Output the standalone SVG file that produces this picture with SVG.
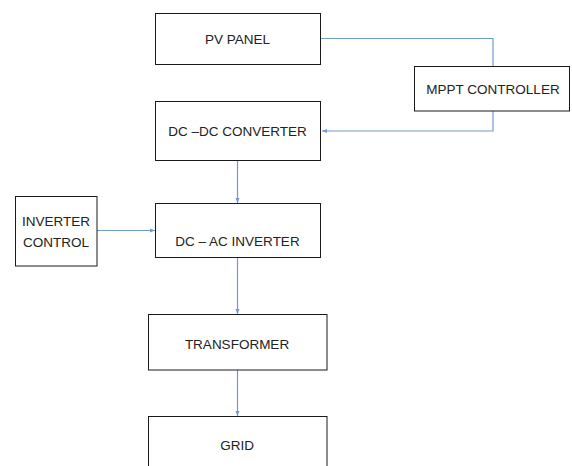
<svg xmlns="http://www.w3.org/2000/svg" width="572" height="466" viewBox="0 0 572 466">
<style>
.box{fill:#fff;stroke:#1a1a1a;stroke-width:1}
.lbl{font-family:"Liberation Sans",Arial,sans-serif;font-size:13.5px;fill:#222;text-anchor:middle}
.con{fill:none;stroke:#6f9ccb;stroke-width:1.2}
</style>
<defs>
<marker id="arr" viewBox="0 0 10 10" refX="10" refY="5" markerWidth="5" markerHeight="5" orient="auto" markerUnits="userSpaceOnUse">
<path d="M0,1 L10,5 L0,9 z" fill="#6f9ccb"/>
</marker>
</defs>
<rect width="572" height="466" fill="#fff"/>
<g id="connectors">
<path class="con" d="M321,38.5 H493 V66"/>
<path class="con" d="M493,111 V131 H322" marker-end="url(#arr)"/>
<path class="con" d="M237.5,161 V203" marker-end="url(#arr)"/>
<path class="con" d="M97,230.5 H155" marker-end="url(#arr)"/>
<path class="con" d="M237.5,257 V314" marker-end="url(#arr)"/>
<path class="con" d="M237.5,370 V416" marker-end="url(#arr)"/>
</g>
<g id="pv-panel"><rect class="box" x="155.5" y="13.5" width="165" height="51"/><text class="lbl" x="237.5" y="44">PV PANEL</text></g>
<g id="mppt-controller"><rect class="box" x="414.5" y="66.5" width="155" height="44.5"/><text class="lbl" x="493" y="94">MPPT CONTROLLER</text></g>
<g id="dc-dc-converter"><rect class="box" x="155.5" y="101.5" width="165" height="59"/><text class="lbl" x="237.5" y="136">DC –DC CONVERTER</text></g>
<g id="inverter-control"><rect class="box" x="15.5" y="196.5" width="81.5" height="69.5"/><text class="lbl" x="56" y="226">INVERTER</text><text class="lbl" x="56" y="246.5">CONTROL</text></g>
<g id="dc-ac-inverter"><rect class="box" x="155.5" y="203.5" width="165" height="54"/><text class="lbl" x="237.5" y="245.5">DC – AC INVERTER</text></g>
<g id="transformer"><rect class="box" x="148.5" y="314.5" width="178.5" height="55.5"/><text class="lbl" x="237" y="349">TRANSFORMER</text></g>
<g id="grid"><rect class="box" x="148.5" y="416.5" width="178.5" height="60"/><text class="lbl" x="237" y="450">GRID</text></g>
</svg>
